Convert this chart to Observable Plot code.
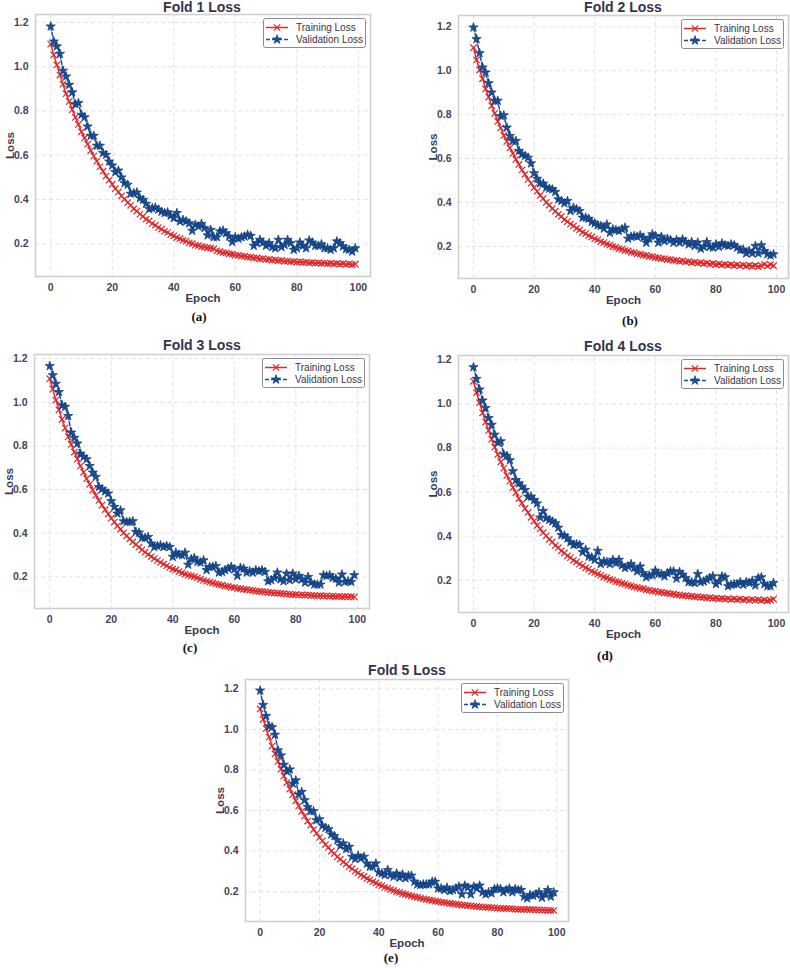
<!DOCTYPE html>
<html><head><meta charset="utf-8">
<script src="https://cdn.jsdelivr.net/npm/d3@7"></script>
<script src="https://cdn.jsdelivr.net/npm/@observablehq/plot@0.6"></script>
<style>
html,body{margin:0;padding:0;background:#fff;}
body{width:790px;height:968px;overflow:hidden;position:relative;font-family:"Liberation Sans",Arial,sans-serif;}
.panel{position:absolute;}
.title{position:absolute;font-weight:bold;font-size:14px;color:#34344a;transform:translate(-50%,-50%);white-space:nowrap;line-height:1.1;}
.cap{position:absolute;font-family:"Liberation Serif","Times New Roman",serif;font-weight:bold;font-size:13px;color:#111;transform:translate(-50%,-50%);line-height:1;}
.legend{position:absolute;}
</style>
</head><body>
<script>
// ---- data ----
const xTicks = [0, 20, 40, 60, 80, 100];
const yTicks = [0.2, 0.4, 0.6, 0.8, 1.0, 1.2];
const titles = ["Fold 1 Loss", "Fold 2 Loss", "Fold 3 Loss", "Fold 4 Loss", "Fold 5 Loss"];
const captions = ["(a)", "(b)", "(c)", "(d)", "(e)"];
const seriesNames = ["Training Loss", "Validation Loss"];

const train1 = [1.102,1.053,1.008,0.962,0.921,0.878,0.843,0.806,0.771,0.739,
0.706,0.678,0.650,0.621,0.596,0.573,0.548,0.528,0.506,0.488,
0.469,0.449,0.434,0.416,0.402,0.386,0.374,0.358,0.348,0.334,
0.324,0.311,0.303,0.291,0.284,0.273,0.266,0.256,0.251,0.241,
0.236,0.228,0.223,0.215,0.212,0.204,0.201,0.194,0.192,0.187,
0.185,0.182,0.180,0.178,0.168,0.165,0.160,0.159,0.154,0.153,
0.149,0.148,0.144,0.144,0.140,0.140,0.136,0.136,0.132,0.133,
0.129,0.130,0.126,0.127,0.124,0.125,0.121,0.122,0.119,0.120,
0.117,0.118,0.116,0.117,0.114,0.115,0.113,0.114,0.111,0.113,
0.110,0.112,0.109,0.111,0.108,0.110,0.107,0.109,0.106,0.108];
const val1 = [1.182,1.114,1.092,1.058,0.982,0.956,0.918,0.884,0.831,0.836,
0.783,0.772,0.730,0.688,0.688,0.643,0.643,0.610,0.602,0.572,
0.554,0.524,0.531,0.500,0.474,0.467,0.426,0.429,0.432,0.406,
0.399,0.381,0.357,0.361,0.364,0.354,0.345,0.339,0.342,0.327,
0.316,0.339,0.301,0.308,0.301,0.293,0.259,0.286,0.278,0.290,
0.271,0.238,0.263,0.230,0.230,0.256,0.260,0.248,0.233,0.208,
0.230,0.223,0.230,0.233,0.241,0.236,0.191,0.203,0.218,0.206,
0.191,0.203,0.185,0.180,0.218,0.185,0.195,0.218,0.203,0.173,
0.180,0.206,0.191,0.180,0.215,0.206,0.191,0.191,0.198,0.180,
0.180,0.173,0.180,0.211,0.203,0.188,0.176,0.173,0.165,0.180];

const train2 = [1.105,1.049,1.004,0.963,0.917,0.880,0.840,0.806,0.769,0.739,
0.705,0.678,0.648,0.623,0.596,0.573,0.548,0.528,0.505,0.488,
0.467,0.451,0.432,0.418,0.400,0.388,0.372,0.360,0.346,0.336,
0.322,0.313,0.301,0.293,0.282,0.275,0.264,0.258,0.249,0.243,
0.234,0.230,0.221,0.217,0.210,0.206,0.199,0.196,0.190,0.187,
0.181,0.179,0.173,0.172,0.166,0.165,0.160,0.159,0.154,0.153,
0.149,0.148,0.144,0.144,0.140,0.140,0.136,0.136,0.132,0.134,
0.129,0.131,0.126,0.128,0.124,0.126,0.121,0.124,0.119,0.122,
0.117,0.120,0.115,0.118,0.114,0.117,0.112,0.116,0.111,0.115,
0.110,0.114,0.109,0.113,0.108,0.112,0.118,0.110,0.117,0.112];
const val2 = [1.197,1.144,1.080,1.015,0.992,0.943,0.901,0.863,0.863,0.794,
0.797,0.741,0.703,0.680,0.680,0.635,0.619,0.612,0.604,0.578,
0.533,0.508,0.487,0.486,0.467,0.463,0.460,0.448,0.414,0.407,
0.396,0.407,0.361,0.376,0.369,0.361,0.331,0.331,0.326,0.311,
0.305,0.296,0.293,0.281,0.300,0.262,0.278,0.274,0.270,0.278,
0.285,0.235,0.244,0.247,0.244,0.250,0.240,0.217,0.235,0.255,
0.247,0.217,0.244,0.224,0.235,0.229,0.217,0.229,0.217,0.232,
0.220,0.209,0.220,0.202,0.217,0.189,0.198,0.220,0.198,0.194,
0.209,0.198,0.214,0.205,0.202,0.209,0.205,0.194,0.183,0.186,
0.168,0.179,0.168,0.202,0.168,0.205,0.179,0.164,0.159,0.164];

const train3 = [1.108,1.060,1.010,0.965,0.922,0.882,0.842,0.807,0.772,0.740,
0.708,0.679,0.650,0.624,0.598,0.574,0.550,0.529,0.508,0.488,
0.469,0.451,0.434,0.418,0.402,0.388,0.374,0.360,0.348,0.336,
0.324,0.313,0.303,0.293,0.284,0.275,0.266,0.258,0.251,0.243,
0.236,0.232,0.224,0.218,0.213,0.208,0.205,0.201,0.196,0.190,
0.184,0.180,0.176,0.172,0.168,0.165,0.162,0.158,0.156,0.152,
0.151,0.147,0.146,0.143,0.142,0.139,0.138,0.135,0.134,0.132,
0.131,0.129,0.128,0.126,0.126,0.124,0.123,0.121,0.121,0.119,
0.119,0.117,0.118,0.116,0.117,0.115,0.114,0.113,0.114,0.112,
0.113,0.111,0.112,0.110,0.111,0.109,0.110,0.108,0.110,0.108];
const val3 = [1.166,1.124,1.085,1.047,0.986,0.979,0.937,0.861,0.837,0.811,
0.765,0.750,0.739,0.708,0.678,0.658,0.612,0.602,0.592,0.582,
0.547,0.521,0.490,0.505,0.455,0.452,0.452,0.455,0.406,0.403,
0.379,0.379,0.383,0.353,0.337,0.342,0.345,0.337,0.342,0.337,
0.292,0.311,0.302,0.299,0.311,0.256,0.281,0.287,0.269,0.266,
0.276,0.231,0.246,0.246,0.250,0.220,0.223,0.231,0.238,0.246,
0.235,0.205,0.241,0.238,0.220,0.226,0.220,0.231,0.226,0.231,
0.223,0.180,0.185,0.195,0.220,0.189,0.180,0.215,0.185,0.215,
0.189,0.205,0.189,0.174,0.200,0.174,0.165,0.165,0.165,0.208,
0.205,0.208,0.195,0.192,0.174,0.211,0.177,0.180,0.177,0.208];

const train4 = [1.103,1.052,1.006,0.960,0.918,0.880,0.840,0.804,0.771,0.737,
0.708,0.676,0.650,0.621,0.598,0.571,0.550,0.526,0.508,0.486,
0.469,0.449,0.434,0.416,0.402,0.386,0.374,0.358,0.348,0.334,
0.324,0.311,0.303,0.291,0.284,0.273,0.266,0.256,0.251,0.241,
0.236,0.228,0.223,0.215,0.212,0.204,0.201,0.194,0.192,0.186,
0.183,0.177,0.175,0.170,0.168,0.163,0.162,0.157,0.156,0.151,
0.151,0.146,0.146,0.142,0.142,0.138,0.138,0.134,0.134,0.131,
0.131,0.128,0.128,0.125,0.126,0.123,0.123,0.120,0.121,0.118,
0.119,0.116,0.118,0.115,0.117,0.113,0.116,0.112,0.115,0.111,
0.114,0.110,0.113,0.109,0.112,0.108,0.111,0.107,0.110,0.115];
const val4 = [1.167,1.114,1.066,1.016,0.982,0.936,0.906,0.861,0.825,0.831,
0.771,0.765,0.745,0.695,0.655,0.640,0.625,0.610,0.580,0.580,
0.564,0.549,0.485,0.515,0.482,0.474,0.467,0.459,0.439,0.406,
0.403,0.391,0.373,0.361,0.364,0.361,0.328,0.339,0.308,0.304,
0.293,0.334,0.274,0.286,0.283,0.274,0.293,0.278,0.293,0.268,
0.256,0.263,0.274,0.256,0.241,0.263,0.233,0.214,0.223,0.223,
0.244,0.229,0.229,0.218,0.233,0.241,0.241,0.208,0.238,0.226,
0.211,0.192,0.192,0.188,0.229,0.192,0.195,0.203,0.211,0.218,
0.183,0.195,0.218,0.214,0.173,0.180,0.183,0.183,0.192,0.180,
0.192,0.188,0.198,0.177,0.211,0.214,0.183,0.173,0.173,0.188];

const train5 = [1.101,1.050,1.004,0.962,0.918,0.879,0.842,0.804,0.770,0.738,
0.706,0.678,0.648,0.623,0.596,0.573,0.548,0.528,0.506,0.488,
0.467,0.451,0.432,0.418,0.400,0.388,0.372,0.360,0.346,0.336,
0.322,0.313,0.301,0.293,0.282,0.275,0.264,0.258,0.249,0.243,
0.234,0.230,0.221,0.217,0.210,0.206,0.199,0.196,0.190,0.187,
0.183,0.179,0.175,0.172,0.168,0.165,0.162,0.159,0.156,0.153,
0.151,0.148,0.146,0.144,0.142,0.140,0.138,0.136,0.134,0.133,
0.131,0.130,0.128,0.127,0.125,0.124,0.123,0.122,0.121,0.120,
0.119,0.118,0.117,0.116,0.116,0.115,0.114,0.113,0.113,0.112,
0.112,0.111,0.111,0.110,0.110,0.109,0.109,0.108,0.108,0.107];
const val5 = [1.192,1.121,1.066,1.016,1.011,0.974,0.897,0.872,0.826,0.793,
0.803,0.733,0.749,0.679,0.692,0.651,0.618,0.597,0.597,0.552,
0.557,0.525,0.515,0.508,0.482,0.475,0.454,0.426,0.438,0.410,
0.421,0.372,0.361,0.377,0.364,0.372,0.339,0.323,0.323,0.339,
0.295,0.290,0.282,0.307,0.282,0.274,0.290,0.269,0.285,0.266,
0.279,0.279,0.249,0.236,0.233,0.236,0.236,0.236,0.249,0.249,
0.216,0.216,0.208,0.220,0.203,0.208,0.216,0.225,0.187,0.230,
0.220,0.187,0.225,0.216,0.230,0.197,0.187,0.197,0.192,0.213,
0.216,0.213,0.197,0.208,0.216,0.197,0.213,0.208,0.208,0.175,
0.167,0.184,0.180,0.187,0.197,0.170,0.187,0.208,0.175,0.197];

const trains = [train1, train2, train3, train4, train5];
const vals = [val1, val2, val3, val4, val5];

// ---- layout (frame rectangles, title & caption centres) ----
const frames = [
  {fx: 35, fy: 14, fw: 335, fh: 262},
  {fx: 458, fy: 15, fw: 330, fh: 263},
  {fx: 34, fy: 354, fw: 335, fh: 254},
  {fx: 458, fy: 355, fw: 330, fh: 257},
  {fx: 245, fy: 679, fw: 323, fh: 242}
];
const titlePos = [[202, 8], [623, 8], [202, 346], [623, 347], [407, 671]];
const capPos = [[199, 316], [630, 320], [190, 647], [605, 655], [391, 957]];

const RED = "#e0282b";
const BLUE = "#1b4f96";
const BLUE_EDGE = "#0d3a78";
const TXT = "#44445a";
const GRID = "#dadada";
const R_TIMES = 3, R_STAR = 2.9;

function drawPanel(k) {
  const {fx, fy, fw, fh} = frames[k];
  const mL = 34, mT = 4, mR = 2, mB = 32;
  const train = trains[k], val = vals[k];
  const all = train.concat(val);
  const lo = d3.min(all), hi = d3.max(all), rg = hi - lo;
  const tr = train.map((v, i) => ({epoch: i, loss: v, s: seriesNames[0]}));
  const va = val.map((v, i) => ({epoch: i, loss: v, s: seriesNames[1]}));
  const xMax = train.length - 1;
  const chart = Plot.plot({
    width: fw + mL + mR,
    height: fh + mT + mB,
    marginLeft: mL, marginTop: mT, marginRight: mR, marginBottom: mB,
    style: {fontFamily: '"Liberation Sans", Arial, sans-serif', fontSize: "10.5px", fontWeight: "bold", color: TXT, background: "transparent", overflow: "visible"},
    x: {domain: [-0.05 * xMax, xMax * 1.05]},
    y: {domain: [lo - 0.05 * rg, hi + 0.05 * rg]},
    marks: [
      Plot.gridX({ticks: xTicks, stroke: GRID, strokeOpacity: 1, strokeWidth: 0.8, strokeDasharray: "4,3"}),
      Plot.gridY({ticks: yTicks, stroke: GRID, strokeOpacity: 1, strokeWidth: 0.8, strokeDasharray: "4,3"}),
      Plot.frame({stroke: "#cfcfcf", strokeWidth: 1.6}),
      Plot.axisX({ticks: xTicks, tickSize: 0, tickPadding: 7, label: null, tickFormat: d => String(d)}),
      Plot.axisY({ticks: yTicks, tickSize: 0, tickPadding: 7, label: null, tickFormat: d => d.toFixed(1)}),
      Plot.text(["Epoch"], {frameAnchor: "bottom", lineAnchor: "middle", textAnchor: "middle", dy: 21.5, fontSize: 11.5, fontWeight: "bold", fill: "#3a3a50"}),
      Plot.text(["Loss"], {frameAnchor: "left", lineAnchor: "middle", textAnchor: "middle", rotate: -90, dx: -25, fontSize: 11.5, fontWeight: "bold", fill: "#3a3a50"}),
      Plot.line(tr, {x: "epoch", y: "loss", stroke: RED, strokeWidth: 1.5}),
      Plot.dot(tr, {x: "epoch", y: "loss", symbol: "times", r: R_TIMES, stroke: RED, strokeWidth: 1.2}),
      Plot.line(va, {x: "epoch", y: "loss", stroke: BLUE, strokeWidth: 1.5, strokeDasharray: "4,2"}),
      Plot.dot(va, {x: "epoch", y: "loss", symbol: "star", r: R_STAR, fill: BLUE, stroke: BLUE_EDGE, strokeWidth: 0.7})
    ]
  });
  const wrap = document.createElement("div");
  wrap.className = "panel";
  wrap.style.left = (fx - mL) + "px";
  wrap.style.top = (fy - mT) + "px";
  wrap.appendChild(chart);
  document.body.appendChild(wrap);

  // title
  const t = document.createElement("div");
  t.className = "title";
  t.textContent = titles[k];
  t.style.left = titlePos[k][0] + "px";
  t.style.top = titlePos[k][1] + "px";
  document.body.appendChild(t);

  // caption
  const c = document.createElement("div");
  c.className = "cap";
  c.textContent = captions[k];
  c.style.left = capPos[k][0] + "px";
  c.style.top = capPos[k][1] + "px";
  document.body.appendChild(c);

  // legend
  const w = 103, h = 30;
  const svg = d3.create("svg").attr("class", "legend").attr("width", w).attr("height", h)
    .style("left", (fx + fw - 4 - w) + "px").style("top", (fy + 4) + "px");
  svg.append("rect").attr("x", 0.5).attr("y", 0.5).attr("width", w - 1).attr("height", h - 1)
    .attr("rx", 2).attr("fill", "#fff").attr("fill-opacity", 0.85).attr("stroke", "#8a8a9c").attr("stroke-width", 1);
  const rows = [
    {y: 9.5, name: seriesNames[0], color: RED, dash: null, sym: d3.symbolTimes, size: Math.PI * R_TIMES * R_TIMES},
    {y: 21.5, name: seriesNames[1], color: BLUE, dash: "4,2", sym: d3.symbolStar, size: Math.PI * R_STAR * R_STAR}
  ];
  for (const r of rows) {
    svg.append("line").attr("x1", 3).attr("x2", 25).attr("y1", r.y).attr("y2", r.y)
      .attr("stroke", r.color).attr("stroke-width", 1.5).attr("stroke-dasharray", r.dash);
    const p = svg.append("path").attr("d", d3.symbol(r.sym, r.size)()).attr("transform", `translate(14,${r.y})`);
    if (r.sym === d3.symbolTimes) p.attr("fill", "none").attr("stroke", r.color).attr("stroke-width", 1.2);
    else p.attr("fill", BLUE).attr("stroke", BLUE_EDGE).attr("stroke-width", 0.7);
    svg.append("text").attr("x", 33).attr("y", r.y).attr("dy", "0.35em")
      .attr("font-family", '"Liberation Sans", Arial, sans-serif').attr("font-size", 10)
      .attr("fill", "#34344a").text(r.name);
  }
  document.body.appendChild(svg.node());
}

for (let k = 0; k < 5; k++) drawPanel(k);
</script>
</body></html>
